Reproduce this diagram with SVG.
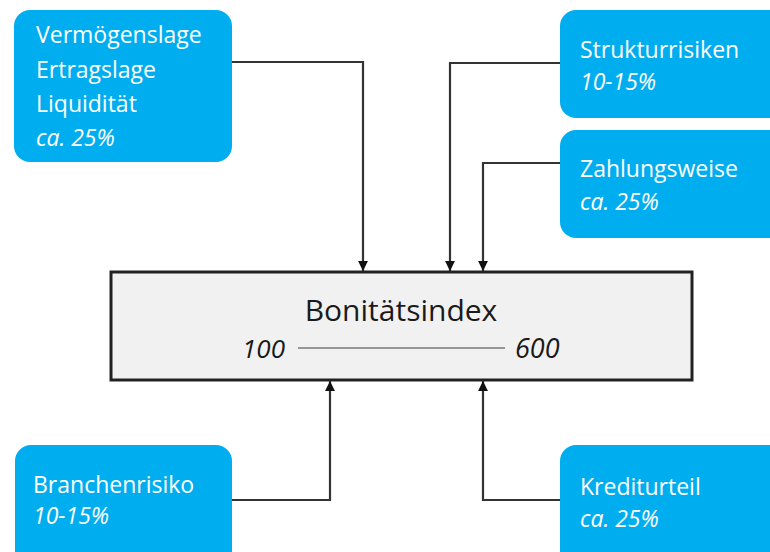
<svg xmlns="http://www.w3.org/2000/svg" width="770" height="552" viewBox="0 0 770 552">
<defs>
<style>
.node{fill:#00AEEF;}
.t{font-family:"Open Sans","Liberation Sans",sans-serif;fill:#ffffff;font-size:23px;}
.i{font-style:italic;}
.c{fill:none;stroke:#333;stroke-width:2.2;}
.ct{font-family:"Open Sans","Liberation Sans",sans-serif;fill:#1a1a1a;}
</style>
<marker id="ah" viewBox="0 0 10 10" refX="10" refY="5" markerWidth="4.5" markerHeight="4.5" orient="auto" markerUnits="strokeWidth">
<path d="M0,0 L10,5 L0,10 z" fill="#111"/>
</marker>
</defs>
<rect width="770" height="552" fill="#ffffff"/>
<g id="connectors">
<path class="c" d="M232,62 H363 V271" marker-end="url(#ah)"/>
<path class="c" d="M560,63 H450 V271" marker-end="url(#ah)"/>
<path class="c" d="M560,163 H483 V271" marker-end="url(#ah)"/>
<path class="c" d="M232,500 H330 V381" marker-end="url(#ah)"/>
<path class="c" d="M560,500 H483 V381" marker-end="url(#ah)"/>
</g>
<g id="bonitaetsindex">
<rect x="111" y="272" width="581" height="108" fill="#F1F1F1" stroke="#222" stroke-width="3"/>
<text class="ct" x="401" y="321" font-size="30" text-anchor="middle">Bonitätsindex</text>
<text class="ct i" x="285" y="358" font-size="26" text-anchor="end">100</text>
<line x1="298" y1="348" x2="505" y2="348" stroke="#777" stroke-width="1.5"/>
<text class="ct i" x="515" y="358" font-size="27">600</text>
</g>
<g id="vermoegen">
<rect class="node" x="14" y="10" width="218" height="152" rx="16"/>
<text class="t" x="36" y="43">Vermögenslage</text>
<text class="t" x="36" y="78">Ertragslage</text>
<text class="t" x="36" y="112">Liquidität</text>
<text class="t i" x="36" y="146">ca. 25%</text>
</g>
<g id="struktur">
<rect class="node" x="560" y="10" width="226" height="108" rx="16"/>
<text class="t" x="580" y="58">Strukturrisiken</text>
<text class="t i" x="580" y="90">10-15%</text>
</g>
<g id="zahlung">
<rect class="node" x="560" y="130" width="226" height="108" rx="16"/>
<text class="t" x="580" y="177">Zahlungsweise</text>
<text class="t i" x="580" y="210">ca. 25%</text>
</g>
<g id="branche">
<rect class="node" x="15" y="445" width="217" height="125" rx="16"/>
<text class="t" x="33" y="493">Branchenrisiko</text>
<text class="t i" x="33" y="524">10-15%</text>
</g>
<g id="kredit">
<rect class="node" x="560" y="445" width="226" height="125" rx="16"/>
<text class="t" x="580" y="495">Krediturteil</text>
<text class="t i" x="580" y="527">ca. 25%</text>
</g>
</svg>
